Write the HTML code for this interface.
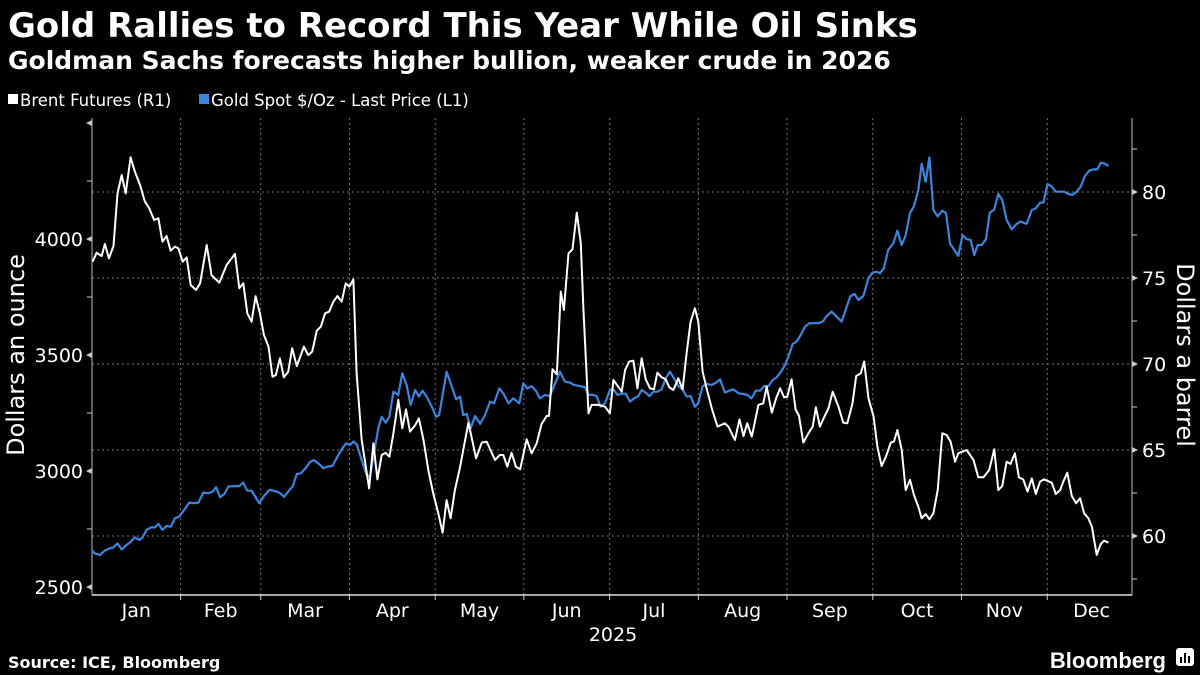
<!DOCTYPE html>
<html><head><meta charset="utf-8">
<style>
body{margin:0;background:#000;width:1200px;height:675px;overflow:hidden;font-family:"Liberation Sans","DejaVu Sans",sans-serif;color:#fff}
svg{position:absolute;left:0;top:0}
</style></head>
<body>
<svg id="chart" width="1200" height="675">
<text x="8" y="37" font-size="34" font-weight="bold" fill="#fff" font-family="DejaVu Sans, sans-serif">Gold Rallies to Record This Year While Oil Sinks</text>
<text x="8" y="69" font-size="25" font-weight="bold" fill="#fff" font-family="DejaVu Sans, sans-serif">Goldman Sachs forecasts higher bullion, weaker crude in 2026</text>
<g font-family="DejaVu Sans, sans-serif" font-size="16.5">
<g><rect x="8" y="94" width="10" height="10" fill="#fff"></rect><text x="20" y="106" fill="#fff">Brent Futures (R1)</text></g>
<g><rect x="199" y="94" width="10" height="10" fill="#3d85db"></rect><text x="211" y="106" fill="#fff">Gold Spot $/Oz - Last Price (L1)</text></g>
</g>
<text transform="translate(24,355) rotate(-90)" text-anchor="middle" font-size="24" fill="#fff" font-family="DejaVu Sans, sans-serif">Dollars an ounce</text>
<text transform="translate(1177,355) rotate(90)" text-anchor="middle" font-size="24" fill="#fff" font-family="DejaVu Sans, sans-serif">Dollars a barrel</text>
<text x="613" y="641" text-anchor="middle" font-size="19" fill="#fff" font-family="DejaVu Sans, sans-serif">2025</text>
<text x="8" y="668" font-size="16" font-weight="bold" fill="#fff" font-family="DejaVu Sans, sans-serif">Source: ICE, Bloomberg</text>
<text x="1166" y="668" text-anchor="end" font-size="22" font-weight="bold" fill="#fff">Bloomberg</text>
<g><rect x="1176" y="648" width="18" height="18" rx="3" fill="#fff"></rect><rect x="1180" y="657" width="2" height="6" fill="#000"></rect><rect x="1184" y="653" width="2" height="10" fill="#000"></rect><rect x="1188" y="656" width="2" height="7" fill="#000"></rect></g>
<g id="grid"></g><g id="axes"></g><g id="series"></g>
</svg>
<script>
const months=["Jan","Feb","Mar","Apr","May","Jun","Jul","Aug","Sep","Oct","Nov","Dec"];
const monthStart=[0,31,59,90,120,151,181,212,243,273,304,334,365];
const leftTicks=[2500,3000,3500,4000];
const rightTicks=[60,65,70,75,80];
const brentDays=[0.2,1.6,3.4,4.5,5.9,7.5,8.9,10.4,11.8,13.5,15,16.8,18.5,20,21.7,23.2,24.6,26.1,27.5,29,30.2,31.7,33.1,34.5,36.4,37.8,40.1,41.8,44.5,47.1,50,51.5,52.9,54.3,55.8,57.2,58.7,60.1,61.7,63.1,64.3,65.7,67.1,68.6,70,71.6,74.1,75.6,77,78.6,80,81.5,82.9,84.4,85.8,87.3,88.7,90,91.4,92.5,94.3,95.4,96.9,98.4,99.8,101.3,102.7,104,105.4,107.1,108.5,109.8,111.2,113,114.3,115.9,117.6,119.3,121.1,122.6,124,125.4,126.9,128.6,131.6,134.3,136.3,138,140.9,142.6,143.8,145.2,146.7,148.2,149.7,152,153.7,155.5,157.2,159,159.8,161,162.5,163.9,165,166.6,168,169.5,170.9,171.8,173.6,174.7,177.1,179.4,181.1,182.3,184,185.2,186.4,187.8,189.3,190.7,192.2,193.6,195.1,196.5,197.7,199.2,200.6,201.9,203.3,205,206.5,207.9,209.3,210.8,212,213.5,214.9,216.7,218.7,221.3,222.5,224.8,226.4,227.8,229.1,230.7,233,234.7,235.9,237.7,239.2,240.6,242,243.1,244.6,246,247.2,248.7,250.5,252,253.1,254.5,256.1,257.5,259,261,262.7,264.1,265.9,267.2,268.8,270,271.5,273.3,274.6,276.1,277.6,279.3,280.4,281.6,283.1,284.5,286,287.4,288.9,290.1,291.5,292.8,294.2,295.7,297.3,298.8,300.2,301.8,302.9,305.8,308.2,309.9,311.7,313.7,315.5,316.9,318.3,319.8,321.2,322.7,324.1,325.6,327.1,328.6,330,331.5,332.9,335.6,337,338.5,339.6,341,342.6,344.1,345.5,346.9,348.4,349.6,351.3,352.7,353.9,355.4];
const brentValues=[75.95,76.47,76.28,76.98,76.14,76.86,79.92,80.99,79.92,82.02,81.18,80.41,79.44,79.05,78.37,78.47,77.11,77.44,76.59,76.82,76.72,75.95,76.2,74.59,74.3,74.69,76.92,75.17,74.73,75.76,76.4,74.4,74.69,72.95,72.46,73.95,72.95,71.69,71.01,69.26,69.36,70.33,69.22,69.55,70.91,69.88,71.01,70.52,70.72,71.94,72.17,72.95,73.04,73.62,73.95,73.62,74.69,74.5,74.92,69.46,65.58,64.42,62.77,65.39,63.29,64.71,64.84,64.61,65.97,67.91,66.26,67.36,66.07,66.45,66.84,65.58,63.84,62.48,61.32,60.19,62.09,61.03,62.67,63.93,66.59,64.52,65.43,65.48,64.42,64.71,64.71,64.03,64.84,64.03,63.88,65.62,64.81,65.39,66.51,66.98,66.98,69.69,69.4,74.21,73.14,76.43,76.67,78.8,77.02,73.33,67.13,67.62,67.62,67.52,67.13,69.07,68.68,68.39,69.65,70.14,70.19,68.59,70.33,69.11,68.59,68.53,69.5,69.22,69.11,68.64,68.49,69.17,68.53,70.62,72.46,73.24,72.46,69.55,68.59,67.42,66.36,66.55,66.36,65.58,66.78,65.81,66.55,65.78,67.62,67.71,68.68,67.17,68,68.59,68.06,68.1,69.11,67.36,66.98,65.43,65.97,66.36,67.48,66.36,66.94,67.42,68.39,67.52,66.59,66.55,67.71,69.3,69.46,70.14,68,66.94,65.19,64.07,64.61,65.43,65.48,66.16,65,62.67,63.26,62.38,61.71,61.03,61.28,60.97,61.32,62.67,65.97,65.87,65.48,64.32,64.81,65,64.42,63.41,63.41,63.84,65.04,62.67,62.91,64.32,64.19,64.81,63.41,63.29,62.58,63.35,62.44,63.16,63.29,63.1,62.44,62.67,63.16,63.68,62.33,61.9,62.19,61.32,61.03,60.54,58.9,59.53,59.73,59.61];
const goldDays=[0,1,2.8,4.5,6.3,7.5,8.9,10.4,12.1,13.5,15,16.6,17.7,19.1,20.5,22,23.2,24.6,26.1,27.6,29,30.5,32.2,34,35.7,37.2,38.9,40.7,42.2,43.4,44.8,46.3,47.7,50,51.5,52.9,54.3,55.8,58.5,60.1,62,63.6,65.5,67.2,68.6,70.2,71.6,73,74.7,76.2,77.6,79.4,80.9,82.3,84.1,85.8,87.3,88.8,90.2,91.4,92.5,94.3,96,97.2,98.6,100.1,101.3,102.7,104,105.4,107.1,108.5,110,111.4,113,114.3,115.6,117,118.8,120.3,121.4,124,125.8,127.3,128.7,129.8,131,132.4,133.9,135.7,137.4,139.2,140.6,142.4,143.8,145.6,147.3,149.4,150.8,152.2,153.7,155.2,156.6,158.4,160.1,162.2,163.6,165.4,167.1,168.5,170.6,172.4,173.6,175.1,176.4,177.9,179.4,181.1,182.3,183.7,185.2,186.6,188.1,189.5,191,192.2,193.6,194.9,196.3,197.7,199.2,200.6,202.1,203.3,205,206.5,207.9,209.3,210.8,212,213.5,215.1,216.7,218.2,219.6,221.3,222.8,224.2,226,227.7,229.2,230.6,232.1,233.6,235,236.5,238,239.4,240.9,242.3,243.7,245,246.4,247.8,249.3,250.8,252.5,254,255.5,256.9,258.6,260.4,262.1,263.5,265.1,266.6,268,269.7,271.5,272.9,274.4,275.5,276.9,278.4,280.2,281.6,283.1,284.5,286,287.4,288.9,290.1,291.5,292.8,294.2,295.7,297.3,298.6,300,301.5,302.9,304.4,305.8,307.2,308.5,309.7,311.1,312.6,313.9,315.4,316.9,318.3,319.8,321.6,323.3,324.7,326.8,328.6,330,331.5,332.7,334.1,335.6,337,338.5,339.9,341.4,342.8,344.3,345.7,347.2,348.7,350.1,351.5,352.7,353.9,355.4];
const goldValues=[2657,2645,2638,2657,2667,2671,2688,2662,2681,2695,2714,2703,2714,2746,2757,2757,2772,2746,2763,2760,2796,2803,2832,2864,2861,2864,2907,2904,2911,2930,2887,2901,2933,2935,2935,2950,2915,2915,2861,2892,2918,2915,2907,2889,2911,2935,2987,2990,3012,3039,3047,3030,3012,3019,3022,3062,3093,3119,3112,3127,3116,3047,2983,2976,3076,3184,3234,3208,3234,3342,3328,3421,3371,3285,3349,3321,3346,3321,3277,3234,3241,3428,3364,3309,3321,3241,3246,3184,3237,3203,3241,3299,3292,3356,3335,3292,3313,3292,3378,3356,3366,3346,3313,3328,3323,3385,3428,3385,3381,3371,3366,3361,3328,3328,3323,3277,3292,3349,3352,3328,3333,3333,3299,3313,3323,3349,3338,3323,3342,3342,3352,3400,3428,3404,3366,3352,3321,3323,3277,3292,3366,3375,3371,3381,3395,3338,3346,3352,3335,3332,3328,3313,3346,3346,3366,3366,3392,3404,3428,3457,3500,3548,3558,3586,3622,3637,3637,3637,3644,3668,3687,3665,3644,3694,3752,3763,3737,3754,3831,3855,3859,3852,3874,3953,3982,4036,3974,4017,4111,4142,4211,4324,4247,4352,4125,4097,4122,4111,3982,3953,3927,4017,3999,3996,3931,3974,3974,3999,4114,4125,4194,4168,4082,4042,4065,4075,4065,4125,4132,4157,4157,4237,4226,4204,4204,4204,4194,4190,4204,4226,4272,4295,4300,4300,4329,4326,4315];

const NS="http://www.w3.org/2000/svg";
const L=92,R=1132,T=118,B=595;
function x(d){return L+d*2.86;}
function yL(g){return 587-(g-2500)*116/500;}
function yR(v){return 536-(v-60)*17.2;}
function mk(tag,attrs,parent){const e=document.createElementNS(NS,tag);for(const k in attrs)e.setAttribute(k,attrs[k]);parent.appendChild(e);return e;}
const grid=document.getElementById('grid'),axes=document.getElementById('axes'),series=document.getElementById('series');
const dash={stroke:"#777","stroke-width":1,"stroke-dasharray":"2,3"};
rightTicks.forEach(v=>{
  const g=mk('line',Object.assign({x1:L,x2:R,y1:yR(v),y2:yR(v)},dash),grid);
  
  
  const t=mk('path',{d:`M${R} ${yR(v)-3}L${R+6} ${yR(v)}L${R} ${yR(v)+3}Z`,fill:"#ccc"},axes);
  
  
  const l=mk('text',{x:R+10,y:yR(v)+7,"font-size":19,fill:"#fff","font-family":"DejaVu Sans, sans-serif"},axes);
  l.textContent=v;
  
  
  const m=mk('line',{x1:R,x2:R+5,y1:yR(v+2.5),y2:yR(v+2.5),stroke:"#ccc"},axes);
  
  
});
const m0=mk('line',{x1:R,x2:R+5,y1:yR(57.5),y2:yR(57.5),stroke:"#ccc"},axes);


months.forEach((mn,i)=>{
  if(i>0){
    const g=mk('line',Object.assign({x1:x(monthStart[i]),x2:x(monthStart[i]),y1:T,y2:B},dash),grid);
    
    
    const tk=mk('line',{x1:x(monthStart[i]),x2:x(monthStart[i]),y1:B,y2:B+5,stroke:"#ccc"},axes);
    
    
  }
  const l=mk('text',{x:x((monthStart[i]+monthStart[i+1])/2),y:617,"text-anchor":"middle","font-size":19,fill:"#fff","font-family":"DejaVu Sans, sans-serif"},axes);
  l.textContent=mn;
  
  
});
leftTicks.forEach(v=>{
  const t=mk('path',{d:`M${L} ${yL(v)-3}L${L-6} ${yL(v)}L${L} ${yL(v)+3}Z`,fill:"#ccc"},axes);
  
  
  const l=mk('text',{x:L-9,y:yL(v)+7,"text-anchor":"end","font-size":19,fill:"#fff","font-family":"DejaVu Sans, sans-serif"},axes);
  l.textContent=v;
  
  
  const m=mk('line',{x1:L,x2:L-5,y1:yL(v+250),y2:yL(v+250),stroke:"#ccc"},axes);
  
  
});
const topT=mk('path',{d:`M${L} ${yL(4500)-3}L${L-6} ${yL(4500)}L${L} ${yL(4500)+3}Z`,fill:"#ccc"},axes);


const la=mk('line',{x1:L,x2:L,y1:T,y2:B,stroke:"#bbb","stroke-width":1},axes);


const ra=mk('line',{x1:R,x2:R,y1:T,y2:B,stroke:"#bbb","stroke-width":1},axes);


const xa=mk('line',{x1:L,x2:R,y1:B,y2:B,stroke:"#ddd","stroke-width":1.5},axes);


const gp=mk('polyline',{points:goldDays.map((d,i)=>x(d).toFixed(1)+","+yL(goldValues[i]).toFixed(1)).join(" "),fill:"none",stroke:"#3d85db","stroke-width":2.2,"stroke-linejoin":"round"},series);


const bp=mk('polyline',{points:brentDays.map((d,i)=>x(d).toFixed(1)+","+yR(brentValues[i]).toFixed(1)).join(" "),fill:"none",stroke:"#fff","stroke-width":2,"stroke-linejoin":"round"},series);


</script>
</body></html>
